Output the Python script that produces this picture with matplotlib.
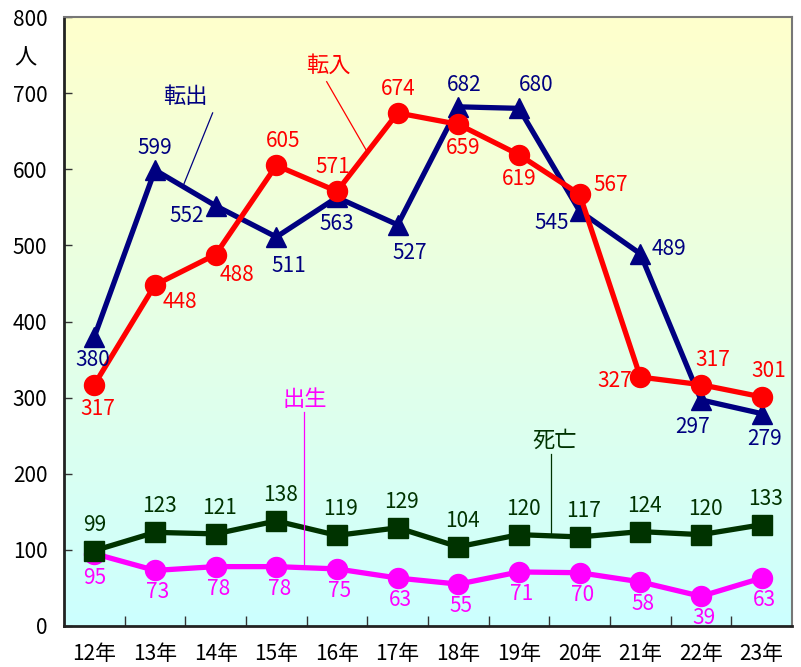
import numpy as np
import matplotlib
matplotlib.use('Agg')
import matplotlib.pyplot as plt
from matplotlib.colors import LinearSegmentedColormap

plt.rcParams['font.family'] = ['Noto Sans CJK JP', 'DejaVu Sans']

# data
years = ['12年', '13年', '14年', '15年', '16年', '17年', '18年', '19年', '20年', '21年', '22年', '23年']
tenshutsu = [380, 599, 552, 511, 563, 527, 682, 680, 545, 489, 297, 279]
tennyu = [317, 448, 488, 605, 571, 674, 659, 619, 567, 327, 317, 301]
shibo = [99, 123, 121, 138, 119, 129, 104, 120, 117, 124, 120, 133]
shussei = [95, 73, 78, 78, 75, 63, 55, 71, 70, 58, 39, 63]

# label offsets in pixels (dx, dy)
off_out = [(-2, -23), (0, 22), (-29, -10), (13, -29), (0, -27), (12, -28),
           (6, 22), (17, 23), (-28, -12), (29, 5), (-8, -27), (3, -25)]
off_in = [(3, -24), (25, -17), (21, -20), (7, 24), (-4, 24), (1, 24),
          (5, -24), (0, -24), (31, 9), (-26, -4), (12, 25), (7, 26)]
off_death = [(0, 26)] + [(4, 26)] * 11
off_birth = [(0, -24)] + [(3, -22)] * 11

NAVY = '#000080'
RED = '#ff0000'
GREEN = '#003300'
MAGENTA = '#ff00ff'

fig = plt.figure(figsize=(8.01, 6.67), dpi=100)
ax = fig.add_axes([64 / 801, 41 / 667, 728 / 801, 609 / 667])

x = np.arange(len(years))

# background gradient, yellow at top to cyan at bottom
cmap = LinearSegmentedColormap.from_list('bg', ['#ccffff', '#ffffcc'])
grad = np.linspace(0, 1, 256).reshape(-1, 1)
ax.imshow(grad, extent=[-0.5, 11.5, 0, 800], origin='lower', aspect='auto',
          cmap=cmap, zorder=0)

lw = 3.8
ms = 14.4
ax.plot(x, shussei, color=MAGENTA, lw=lw, marker='o', ms=ms, zorder=3)
ax.plot(x, shibo, color=GREEN, lw=lw, marker='s', ms=ms - 0.5, zorder=4)
ax.plot(x, tenshutsu, color=NAVY, lw=lw, marker='^', ms=ms, zorder=5)
ax.plot(x, tennyu, color=RED, lw=lw, marker='o', ms=ms, zorder=6)

fs = 15
for vals, offs, col in [(tenshutsu, off_out, NAVY), (tennyu, off_in, RED),
                        (shibo, off_death, GREEN), (shussei, off_birth, MAGENTA)]:
    for i, v in enumerate(vals):
        ax.annotate(str(v), (x[i], v), xytext=offs[i], textcoords='offset pixels',
                    ha='center', va='center', fontsize=fs, color=col, zorder=10)

# series name callouts
def callout(name, vals, xt, yt, xs, ys, xe, col):
    ye = np.interp(xe, x, vals)
    ax.plot([xs, xe], [ys, ye], color=col, lw=0.9, zorder=7)
    ax.text(xt, yt, name, ha='center', va='center', fontsize=16, color=col, zorder=10)

callout('転出', tenshutsu, 1.50, 695, 1.95, 674, 1.46, NAVY)
callout('転入', tennyu, 3.86, 737, 3.83, 715, 4.50, RED)
callout('出生', shussei, 3.47, 298, 3.45, 281, 3.45, MAGENTA)
callout('死亡', shibo, 7.58, 244, 7.53, 226, 7.53, GREEN)

ax.set_xlim(-0.5, 11.5)
ax.set_ylim(0, 800)
ax.set_yticks(range(0, 801, 100))
ax.set_xticks(x)
ax.set_xticklabels(years)
ax.set_xticks(np.arange(0.5, 11.5, 1), minor=True)
ax.tick_params(axis='x', which='major', length=0, pad=12, labelsize=15)
ax.tick_params(axis='x', which='minor', direction='in', length=7, width=1, color='#333333')
ax.tick_params(axis='y', direction='in', length=6, width=1, pad=12, labelsize=15,
               color='#333333')

for s in ['left', 'bottom']:
    ax.spines[s].set_color('#222222')
    ax.spines[s].set_linewidth(2)
for s in ['top', 'right']:
    ax.spines[s].set_color('#777777')
    ax.spines[s].set_linewidth(1.5)

fig.text(25 / 801, 1 - 58 / 667, '人', ha='center', va='center', fontsize=16)

fig.savefig('out.png', dpi=100)
